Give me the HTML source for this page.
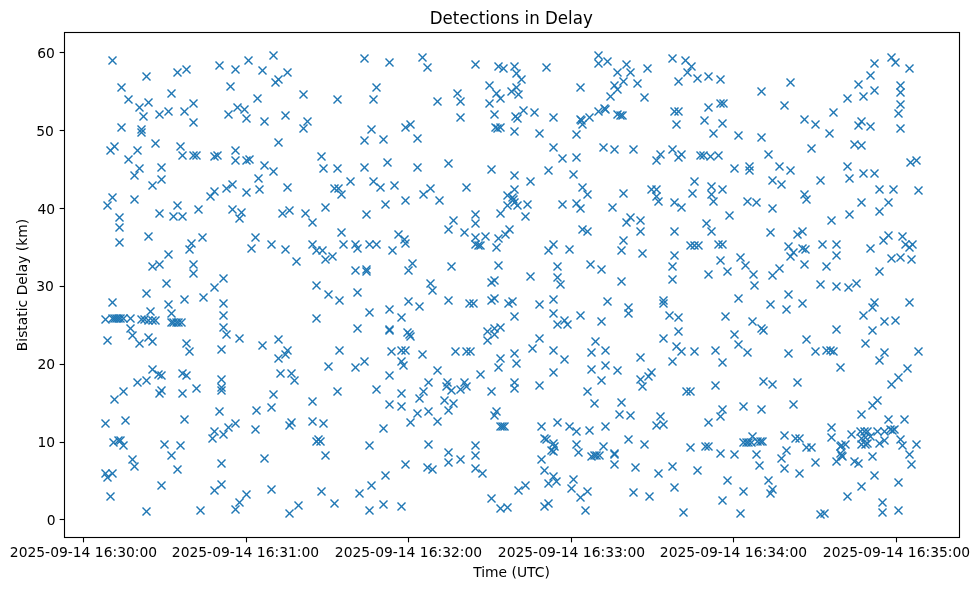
<!DOCTYPE html>
<html lang="en">
<head>
<meta charset="utf-8">
<title>Detections in Delay</title>
<style>
html,body{margin:0;padding:0;background:#fff;}
body{width:979px;height:590px;overflow:hidden;}
svg{display:block;}
text{font-family:"DejaVu Sans","Liberation Sans",sans-serif;fill:#000;}
.t{font-size:13.889px;}
.ti{font-size:16.667px;}
.ax{stroke:#000;stroke-width:1.111;fill:none;}
.m{stroke:#1f77b4;stroke-width:1.389;fill:none;stroke-linecap:butt;}
</style>
</head>
<body>
<svg width="979" height="590" viewBox="0 0 979 590">
<rect x="0" y="0" width="979" height="590" fill="#fff"/>
<g class="m">
<path d="M108.5 56.5l8 8"/><path d="M116.5 56.5l-8 8"/>
<path d="M142.5 72.5l8 8"/><path d="M150.5 72.5l-8 8"/>
<path d="M117.5 83.5l8 8"/><path d="M125.5 83.5l-8 8"/>
<path d="M124.5 95.5l8 8"/><path d="M132.5 95.5l-8 8"/>
<path d="M135.5 103.5l8 8"/><path d="M143.5 103.5l-8 8"/>
<path d="M144.5 98.5l8 8"/><path d="M152.5 98.5l-8 8"/>
<path d="M139.5 112.5l8 8"/><path d="M147.5 112.5l-8 8"/>
<path d="M155.5 110.5l8 8"/><path d="M163.5 110.5l-8 8"/>
<path d="M164.5 107.5l8 8"/><path d="M172.5 107.5l-8 8"/>
<path d="M167.5 89.5l8 8"/><path d="M175.5 89.5l-8 8"/>
<path d="M173.5 68.5l8 8"/><path d="M181.5 68.5l-8 8"/>
<path d="M182.5 65.5l8 8"/><path d="M190.5 65.5l-8 8"/>
<path d="M180.5 107.5l8 8"/><path d="M188.5 107.5l-8 8"/>
<path d="M189.5 99.5l8 8"/><path d="M197.5 99.5l-8 8"/>
<path d="M189.5 118.5l8 8"/><path d="M197.5 118.5l-8 8"/>
<path d="M117.5 123.5l8 8"/><path d="M125.5 123.5l-8 8"/>
<path d="M137.5 125.5l8 8"/><path d="M145.5 125.5l-8 8"/>
<path d="M137.5 128.5l8 8"/><path d="M145.5 128.5l-8 8"/>
<path d="M215.5 61.5l8 8"/><path d="M223.5 61.5l-8 8"/>
<path d="M231.5 65.5l8 8"/><path d="M239.5 65.5l-8 8"/>
<path d="M244.5 56.5l8 8"/><path d="M252.5 56.5l-8 8"/>
<path d="M226.5 82.5l8 8"/><path d="M234.5 82.5l-8 8"/>
<path d="M233.5 103.5l8 8"/><path d="M241.5 103.5l-8 8"/>
<path d="M240.5 105.5l8 8"/><path d="M248.5 105.5l-8 8"/>
<path d="M224.5 110.5l8 8"/><path d="M232.5 110.5l-8 8"/>
<path d="M242.5 114.5l8 8"/><path d="M250.5 114.5l-8 8"/>
<path d="M151.5 139.5l8 8"/><path d="M159.5 139.5l-8 8"/>
<path d="M253.5 94.5l8 8"/><path d="M261.5 94.5l-8 8"/>
<path d="M269.5 51.5l8 8"/><path d="M277.5 51.5l-8 8"/>
<path d="M258.5 66.5l8 8"/><path d="M266.5 66.5l-8 8"/>
<path d="M283.5 68.5l8 8"/><path d="M291.5 68.5l-8 8"/>
<path d="M274.5 75.5l8 8"/><path d="M282.5 75.5l-8 8"/>
<path d="M271.5 78.5l8 8"/><path d="M279.5 78.5l-8 8"/>
<path d="M299.5 90.5l8 8"/><path d="M307.5 90.5l-8 8"/>
<path d="M333.5 95.5l8 8"/><path d="M341.5 95.5l-8 8"/>
<path d="M260.5 117.5l8 8"/><path d="M268.5 117.5l-8 8"/>
<path d="M281.5 111.5l8 8"/><path d="M289.5 111.5l-8 8"/>
<path d="M303.5 117.5l8 8"/><path d="M311.5 117.5l-8 8"/>
<path d="M299.5 124.5l8 8"/><path d="M307.5 124.5l-8 8"/>
<path d="M274.5 138.5l8 8"/><path d="M282.5 138.5l-8 8"/>
<path d="M360.5 54.5l8 8"/><path d="M368.5 54.5l-8 8"/>
<path d="M385.5 58.5l8 8"/><path d="M393.5 58.5l-8 8"/>
<path d="M418.5 53.5l8 8"/><path d="M426.5 53.5l-8 8"/>
<path d="M372.5 83.5l8 8"/><path d="M380.5 83.5l-8 8"/>
<path d="M369.5 95.5l8 8"/><path d="M377.5 95.5l-8 8"/>
<path d="M367.5 125.5l8 8"/><path d="M375.5 125.5l-8 8"/>
<path d="M401.5 123.5l8 8"/><path d="M409.5 123.5l-8 8"/>
<path d="M406.5 120.5l8 8"/><path d="M414.5 120.5l-8 8"/>
<path d="M360.5 136.5l8 8"/><path d="M368.5 136.5l-8 8"/>
<path d="M379.5 135.5l8 8"/><path d="M387.5 135.5l-8 8"/>
<path d="M413.5 134.5l8 8"/><path d="M421.5 134.5l-8 8"/>
<path d="M423.5 63.5l8 8"/><path d="M431.5 63.5l-8 8"/>
<path d="M471.5 60.5l8 8"/><path d="M479.5 60.5l-8 8"/>
<path d="M542.5 63.5l8 8"/><path d="M550.5 63.5l-8 8"/>
<path d="M453.5 89.5l8 8"/><path d="M461.5 89.5l-8 8"/>
<path d="M456.5 97.5l8 8"/><path d="M464.5 97.5l-8 8"/>
<path d="M433.5 97.5l8 8"/><path d="M441.5 97.5l-8 8"/>
<path d="M456.5 113.5l8 8"/><path d="M464.5 113.5l-8 8"/>
<path d="M549.5 113.5l8 8"/><path d="M557.5 113.5l-8 8"/>
<path d="M576.5 83.5l8 8"/><path d="M584.5 83.5l-8 8"/>
<path d="M535.5 129.5l8 8"/><path d="M543.5 129.5l-8 8"/>
<path d="M594.5 51.5l8 8"/><path d="M602.5 51.5l-8 8"/>
<path d="M594.5 59.5l8 8"/><path d="M602.5 59.5l-8 8"/>
<path d="M603.5 57.5l8 8"/><path d="M611.5 57.5l-8 8"/>
<path d="M622.5 60.5l8 8"/><path d="M630.5 60.5l-8 8"/>
<path d="M613.5 68.5l8 8"/><path d="M621.5 68.5l-8 8"/>
<path d="M626.5 68.5l8 8"/><path d="M634.5 68.5l-8 8"/>
<path d="M643.5 64.5l8 8"/><path d="M651.5 64.5l-8 8"/>
<path d="M619.5 77.5l8 8"/><path d="M627.5 77.5l-8 8"/>
<path d="M610.5 81.5l8 8"/><path d="M618.5 81.5l-8 8"/>
<path d="M613.5 85.5l8 8"/><path d="M621.5 85.5l-8 8"/>
<path d="M633.5 79.5l8 8"/><path d="M641.5 79.5l-8 8"/>
<path d="M640.5 93.5l8 8"/><path d="M648.5 93.5l-8 8"/>
<path d="M668.5 54.5l8 8"/><path d="M676.5 54.5l-8 8"/>
<path d="M681.5 56.5l8 8"/><path d="M689.5 56.5l-8 8"/>
<path d="M687.5 62.5l8 8"/><path d="M695.5 62.5l-8 8"/>
<path d="M683.5 68.5l8 8"/><path d="M691.5 68.5l-8 8"/>
<path d="M674.5 77.5l8 8"/><path d="M682.5 77.5l-8 8"/>
<path d="M693.5 74.5l8 8"/><path d="M701.5 74.5l-8 8"/>
<path d="M704.5 72.5l8 8"/><path d="M712.5 72.5l-8 8"/>
<path d="M716.5 75.5l8 8"/><path d="M724.5 75.5l-8 8"/>
<path d="M670.5 107.5l8 8"/><path d="M678.5 107.5l-8 8"/>
<path d="M674.5 107.5l8 8"/><path d="M682.5 107.5l-8 8"/>
<path d="M672.5 120.5l8 8"/><path d="M680.5 120.5l-8 8"/>
<path d="M704.5 103.5l8 8"/><path d="M712.5 103.5l-8 8"/>
<path d="M716.5 99.5l8 8"/><path d="M724.5 99.5l-8 8"/>
<path d="M719.5 99.5l8 8"/><path d="M727.5 99.5l-8 8"/>
<path d="M700.5 116.5l8 8"/><path d="M708.5 116.5l-8 8"/>
<path d="M718.5 119.5l8 8"/><path d="M726.5 119.5l-8 8"/>
<path d="M709.5 129.5l8 8"/><path d="M717.5 129.5l-8 8"/>
<path d="M734.5 131.5l8 8"/><path d="M742.5 131.5l-8 8"/>
<path d="M757.5 87.5l8 8"/><path d="M765.5 87.5l-8 8"/>
<path d="M757.5 133.5l8 8"/><path d="M765.5 133.5l-8 8"/>
<path d="M786.5 78.5l8 8"/><path d="M794.5 78.5l-8 8"/>
<path d="M780.5 101.5l8 8"/><path d="M788.5 101.5l-8 8"/>
<path d="M800.5 115.5l8 8"/><path d="M808.5 115.5l-8 8"/>
<path d="M811.5 120.5l8 8"/><path d="M819.5 120.5l-8 8"/>
<path d="M829.5 108.5l8 8"/><path d="M837.5 108.5l-8 8"/>
<path d="M825.5 129.5l8 8"/><path d="M833.5 129.5l-8 8"/>
<path d="M843.5 94.5l8 8"/><path d="M851.5 94.5l-8 8"/>
<path d="M854.5 80.5l8 8"/><path d="M862.5 80.5l-8 8"/>
<path d="M859.5 92.5l8 8"/><path d="M867.5 92.5l-8 8"/>
<path d="M866.5 71.5l8 8"/><path d="M874.5 71.5l-8 8"/>
<path d="M870.5 86.5l8 8"/><path d="M878.5 86.5l-8 8"/>
<path d="M870.5 59.5l8 8"/><path d="M878.5 59.5l-8 8"/>
<path d="M887.5 53.5l8 8"/><path d="M895.5 53.5l-8 8"/>
<path d="M891.5 58.5l8 8"/><path d="M899.5 58.5l-8 8"/>
<path d="M905.5 64.5l8 8"/><path d="M913.5 64.5l-8 8"/>
<path d="M896.5 81.5l8 8"/><path d="M904.5 81.5l-8 8"/>
<path d="M896.5 88.5l8 8"/><path d="M904.5 88.5l-8 8"/>
<path d="M896.5 100.5l8 8"/><path d="M904.5 100.5l-8 8"/>
<path d="M894.5 109.5l8 8"/><path d="M902.5 109.5l-8 8"/>
<path d="M896.5 124.5l8 8"/><path d="M904.5 124.5l-8 8"/>
<path d="M857.5 117.5l8 8"/><path d="M865.5 117.5l-8 8"/>
<path d="M854.5 121.5l8 8"/><path d="M862.5 121.5l-8 8"/>
<path d="M866.5 122.5l8 8"/><path d="M874.5 122.5l-8 8"/>
<path d="M110.5 142.5l8 8"/><path d="M118.5 142.5l-8 8"/>
<path d="M106.5 146.5l8 8"/><path d="M114.5 146.5l-8 8"/>
<path d="M133.5 146.5l8 8"/><path d="M141.5 146.5l-8 8"/>
<path d="M176.5 142.5l8 8"/><path d="M184.5 142.5l-8 8"/>
<path d="M124.5 155.5l8 8"/><path d="M132.5 155.5l-8 8"/>
<path d="M135.5 164.5l8 8"/><path d="M143.5 164.5l-8 8"/>
<path d="M130.5 171.5l8 8"/><path d="M138.5 171.5l-8 8"/>
<path d="M157.5 163.5l8 8"/><path d="M165.5 163.5l-8 8"/>
<path d="M157.5 175.5l8 8"/><path d="M165.5 175.5l-8 8"/>
<path d="M148.5 181.5l8 8"/><path d="M156.5 181.5l-8 8"/>
<path d="M178.5 151.5l8 8"/><path d="M186.5 151.5l-8 8"/>
<path d="M189.5 151.5l8 8"/><path d="M197.5 151.5l-8 8"/>
<path d="M192.5 151.5l8 8"/><path d="M200.5 151.5l-8 8"/>
<path d="M210.5 152.5l8 8"/><path d="M218.5 152.5l-8 8"/>
<path d="M213.5 151.5l8 8"/><path d="M221.5 151.5l-8 8"/>
<path d="M231.5 146.5l8 8"/><path d="M239.5 146.5l-8 8"/>
<path d="M231.5 156.5l8 8"/><path d="M239.5 156.5l-8 8"/>
<path d="M242.5 156.5l8 8"/><path d="M250.5 156.5l-8 8"/>
<path d="M245.5 155.5l8 8"/><path d="M253.5 155.5l-8 8"/>
<path d="M254.5 174.5l8 8"/><path d="M262.5 174.5l-8 8"/>
<path d="M255.5 185.5l8 8"/><path d="M263.5 185.5l-8 8"/>
<path d="M108.5 193.5l8 8"/><path d="M116.5 193.5l-8 8"/>
<path d="M103.5 201.5l8 8"/><path d="M111.5 201.5l-8 8"/>
<path d="M130.5 195.5l8 8"/><path d="M138.5 195.5l-8 8"/>
<path d="M173.5 201.5l8 8"/><path d="M181.5 201.5l-8 8"/>
<path d="M155.5 209.5l8 8"/><path d="M163.5 209.5l-8 8"/>
<path d="M169.5 212.5l8 8"/><path d="M177.5 212.5l-8 8"/>
<path d="M178.5 212.5l8 8"/><path d="M186.5 212.5l-8 8"/>
<path d="M194.5 205.5l8 8"/><path d="M202.5 205.5l-8 8"/>
<path d="M206.5 192.5l8 8"/><path d="M214.5 192.5l-8 8"/>
<path d="M210.5 187.5l8 8"/><path d="M218.5 187.5l-8 8"/>
<path d="M222.5 184.5l8 8"/><path d="M230.5 184.5l-8 8"/>
<path d="M228.5 180.5l8 8"/><path d="M236.5 180.5l-8 8"/>
<path d="M242.5 188.5l8 8"/><path d="M250.5 188.5l-8 8"/>
<path d="M228.5 205.5l8 8"/><path d="M236.5 205.5l-8 8"/>
<path d="M237.5 208.5l8 8"/><path d="M245.5 208.5l-8 8"/>
<path d="M235.5 214.5l8 8"/><path d="M243.5 214.5l-8 8"/>
<path d="M115.5 213.5l8 8"/><path d="M123.5 213.5l-8 8"/>
<path d="M115.5 223.5l8 8"/><path d="M123.5 223.5l-8 8"/>
<path d="M144.5 232.5l8 8"/><path d="M152.5 232.5l-8 8"/>
<path d="M198.5 233.5l8 8"/><path d="M206.5 233.5l-8 8"/>
<path d="M115.5 238.5l8 8"/><path d="M123.5 238.5l-8 8"/>
<path d="M251.5 233.5l8 8"/><path d="M259.5 233.5l-8 8"/>
<path d="M260.5 161.5l8 8"/><path d="M268.5 161.5l-8 8"/>
<path d="M269.5 167.5l8 8"/><path d="M277.5 167.5l-8 8"/>
<path d="M283.5 183.5l8 8"/><path d="M291.5 183.5l-8 8"/>
<path d="M317.5 152.5l8 8"/><path d="M325.5 152.5l-8 8"/>
<path d="M319.5 164.5l8 8"/><path d="M327.5 164.5l-8 8"/>
<path d="M333.5 164.5l8 8"/><path d="M341.5 164.5l-8 8"/>
<path d="M360.5 163.5l8 8"/><path d="M368.5 163.5l-8 8"/>
<path d="M383.5 158.5l8 8"/><path d="M391.5 158.5l-8 8"/>
<path d="M413.5 163.5l8 8"/><path d="M421.5 163.5l-8 8"/>
<path d="M346.5 177.5l8 8"/><path d="M354.5 177.5l-8 8"/>
<path d="M330.5 184.5l8 8"/><path d="M338.5 184.5l-8 8"/>
<path d="M334.5 184.5l8 8"/><path d="M342.5 184.5l-8 8"/>
<path d="M337.5 190.5l8 8"/><path d="M345.5 190.5l-8 8"/>
<path d="M369.5 177.5l8 8"/><path d="M377.5 177.5l-8 8"/>
<path d="M376.5 183.5l8 8"/><path d="M384.5 183.5l-8 8"/>
<path d="M390.5 181.5l8 8"/><path d="M398.5 181.5l-8 8"/>
<path d="M401.5 196.5l8 8"/><path d="M409.5 196.5l-8 8"/>
<path d="M419.5 190.5l8 8"/><path d="M427.5 190.5l-8 8"/>
<path d="M381.5 200.5l8 8"/><path d="M389.5 200.5l-8 8"/>
<path d="M321.5 203.5l8 8"/><path d="M329.5 203.5l-8 8"/>
<path d="M362.5 210.5l8 8"/><path d="M370.5 210.5l-8 8"/>
<path d="M285.5 206.5l8 8"/><path d="M293.5 206.5l-8 8"/>
<path d="M278.5 209.5l8 8"/><path d="M286.5 209.5l-8 8"/>
<path d="M301.5 209.5l8 8"/><path d="M309.5 209.5l-8 8"/>
<path d="M308.5 218.5l8 8"/><path d="M316.5 218.5l-8 8"/>
<path d="M337.5 228.5l8 8"/><path d="M345.5 228.5l-8 8"/>
<path d="M394.5 230.5l8 8"/><path d="M402.5 230.5l-8 8"/>
<path d="M400.5 235.5l8 8"/><path d="M408.5 235.5l-8 8"/>
<path d="M549.5 143.5l8 8"/><path d="M557.5 143.5l-8 8"/>
<path d="M558.5 154.5l8 8"/><path d="M566.5 154.5l-8 8"/>
<path d="M572.5 153.5l8 8"/><path d="M580.5 153.5l-8 8"/>
<path d="M544.5 166.5l8 8"/><path d="M552.5 166.5l-8 8"/>
<path d="M569.5 170.5l8 8"/><path d="M577.5 170.5l-8 8"/>
<path d="M444.5 159.5l8 8"/><path d="M452.5 159.5l-8 8"/>
<path d="M462.5 183.5l8 8"/><path d="M470.5 183.5l-8 8"/>
<path d="M426.5 184.5l8 8"/><path d="M434.5 184.5l-8 8"/>
<path d="M435.5 196.5l8 8"/><path d="M443.5 196.5l-8 8"/>
<path d="M578.5 183.5l8 8"/><path d="M586.5 183.5l-8 8"/>
<path d="M583.5 190.5l8 8"/><path d="M591.5 190.5l-8 8"/>
<path d="M558.5 200.5l8 8"/><path d="M566.5 200.5l-8 8"/>
<path d="M572.5 199.5l8 8"/><path d="M580.5 199.5l-8 8"/>
<path d="M576.5 204.5l8 8"/><path d="M584.5 204.5l-8 8"/>
<path d="M471.5 210.5l8 8"/><path d="M479.5 210.5l-8 8"/>
<path d="M471.5 219.5l8 8"/><path d="M479.5 219.5l-8 8"/>
<path d="M449.5 216.5l8 8"/><path d="M457.5 216.5l-8 8"/>
<path d="M444.5 225.5l8 8"/><path d="M452.5 225.5l-8 8"/>
<path d="M460.5 228.5l8 8"/><path d="M468.5 228.5l-8 8"/>
<path d="M471.5 233.5l8 8"/><path d="M479.5 233.5l-8 8"/>
<path d="M481.5 232.5l8 8"/><path d="M489.5 232.5l-8 8"/>
<path d="M494.5 234.5l8 8"/><path d="M502.5 234.5l-8 8"/>
<path d="M501.5 230.5l8 8"/><path d="M509.5 230.5l-8 8"/>
<path d="M505.5 225.5l8 8"/><path d="M513.5 225.5l-8 8"/>
<path d="M578.5 225.5l8 8"/><path d="M586.5 225.5l-8 8"/>
<path d="M583.5 227.5l8 8"/><path d="M591.5 227.5l-8 8"/>
<path d="M599.5 143.5l8 8"/><path d="M607.5 143.5l-8 8"/>
<path d="M610.5 145.5l8 8"/><path d="M618.5 145.5l-8 8"/>
<path d="M629.5 145.5l8 8"/><path d="M637.5 145.5l-8 8"/>
<path d="M656.5 150.5l8 8"/><path d="M664.5 150.5l-8 8"/>
<path d="M652.5 156.5l8 8"/><path d="M660.5 156.5l-8 8"/>
<path d="M668.5 145.5l8 8"/><path d="M676.5 145.5l-8 8"/>
<path d="M677.5 150.5l8 8"/><path d="M685.5 150.5l-8 8"/>
<path d="M674.5 153.5l8 8"/><path d="M682.5 153.5l-8 8"/>
<path d="M696.5 151.5l8 8"/><path d="M704.5 151.5l-8 8"/>
<path d="M699.5 151.5l8 8"/><path d="M707.5 151.5l-8 8"/>
<path d="M706.5 152.5l8 8"/><path d="M714.5 152.5l-8 8"/>
<path d="M714.5 151.5l8 8"/><path d="M722.5 151.5l-8 8"/>
<path d="M730.5 164.5l8 8"/><path d="M738.5 164.5l-8 8"/>
<path d="M745.5 162.5l8 8"/><path d="M753.5 162.5l-8 8"/>
<path d="M745.5 166.5l8 8"/><path d="M753.5 166.5l-8 8"/>
<path d="M690.5 177.5l8 8"/><path d="M698.5 177.5l-8 8"/>
<path d="M688.5 189.5l8 8"/><path d="M696.5 189.5l-8 8"/>
<path d="M707.5 182.5l8 8"/><path d="M715.5 182.5l-8 8"/>
<path d="M707.5 190.5l8 8"/><path d="M715.5 190.5l-8 8"/>
<path d="M709.5 197.5l8 8"/><path d="M717.5 197.5l-8 8"/>
<path d="M718.5 185.5l8 8"/><path d="M726.5 185.5l-8 8"/>
<path d="M743.5 197.5l8 8"/><path d="M751.5 197.5l-8 8"/>
<path d="M647.5 185.5l8 8"/><path d="M655.5 185.5l-8 8"/>
<path d="M652.5 185.5l8 8"/><path d="M660.5 185.5l-8 8"/>
<path d="M652.5 192.5l8 8"/><path d="M660.5 192.5l-8 8"/>
<path d="M654.5 197.5l8 8"/><path d="M662.5 197.5l-8 8"/>
<path d="M619.5 189.5l8 8"/><path d="M627.5 189.5l-8 8"/>
<path d="M608.5 203.5l8 8"/><path d="M616.5 203.5l-8 8"/>
<path d="M670.5 198.5l8 8"/><path d="M678.5 198.5l-8 8"/>
<path d="M677.5 203.5l8 8"/><path d="M685.5 203.5l-8 8"/>
<path d="M626.5 213.5l8 8"/><path d="M634.5 213.5l-8 8"/>
<path d="M622.5 218.5l8 8"/><path d="M630.5 218.5l-8 8"/>
<path d="M636.5 216.5l8 8"/><path d="M644.5 216.5l-8 8"/>
<path d="M636.5 227.5l8 8"/><path d="M644.5 227.5l-8 8"/>
<path d="M670.5 227.5l8 8"/><path d="M678.5 227.5l-8 8"/>
<path d="M702.5 219.5l8 8"/><path d="M710.5 219.5l-8 8"/>
<path d="M707.5 227.5l8 8"/><path d="M715.5 227.5l-8 8"/>
<path d="M725.5 211.5l8 8"/><path d="M733.5 211.5l-8 8"/>
<path d="M619.5 236.5l8 8"/><path d="M627.5 236.5l-8 8"/>
<path d="M764.5 150.5l8 8"/><path d="M772.5 150.5l-8 8"/>
<path d="M807.5 144.5l8 8"/><path d="M815.5 144.5l-8 8"/>
<path d="M850.5 140.5l8 8"/><path d="M858.5 140.5l-8 8"/>
<path d="M857.5 141.5l8 8"/><path d="M865.5 141.5l-8 8"/>
<path d="M775.5 162.5l8 8"/><path d="M783.5 162.5l-8 8"/>
<path d="M786.5 166.5l8 8"/><path d="M794.5 166.5l-8 8"/>
<path d="M768.5 176.5l8 8"/><path d="M776.5 176.5l-8 8"/>
<path d="M777.5 180.5l8 8"/><path d="M785.5 180.5l-8 8"/>
<path d="M816.5 176.5l8 8"/><path d="M824.5 176.5l-8 8"/>
<path d="M843.5 162.5l8 8"/><path d="M851.5 162.5l-8 8"/>
<path d="M845.5 174.5l8 8"/><path d="M853.5 174.5l-8 8"/>
<path d="M859.5 169.5l8 8"/><path d="M867.5 169.5l-8 8"/>
<path d="M870.5 169.5l8 8"/><path d="M878.5 169.5l-8 8"/>
<path d="M906.5 158.5l8 8"/><path d="M914.5 158.5l-8 8"/>
<path d="M912.5 156.5l8 8"/><path d="M920.5 156.5l-8 8"/>
<path d="M875.5 185.5l8 8"/><path d="M883.5 185.5l-8 8"/>
<path d="M889.5 185.5l8 8"/><path d="M897.5 185.5l-8 8"/>
<path d="M914.5 186.5l8 8"/><path d="M922.5 186.5l-8 8"/>
<path d="M800.5 190.5l8 8"/><path d="M808.5 190.5l-8 8"/>
<path d="M802.5 195.5l8 8"/><path d="M810.5 195.5l-8 8"/>
<path d="M752.5 198.5l8 8"/><path d="M760.5 198.5l-8 8"/>
<path d="M768.5 204.5l8 8"/><path d="M776.5 204.5l-8 8"/>
<path d="M857.5 198.5l8 8"/><path d="M865.5 198.5l-8 8"/>
<path d="M884.5 198.5l8 8"/><path d="M892.5 198.5l-8 8"/>
<path d="M875.5 207.5l8 8"/><path d="M883.5 207.5l-8 8"/>
<path d="M845.5 210.5l8 8"/><path d="M853.5 210.5l-8 8"/>
<path d="M827.5 216.5l8 8"/><path d="M835.5 216.5l-8 8"/>
<path d="M766.5 228.5l8 8"/><path d="M774.5 228.5l-8 8"/>
<path d="M793.5 230.5l8 8"/><path d="M801.5 230.5l-8 8"/>
<path d="M798.5 227.5l8 8"/><path d="M806.5 227.5l-8 8"/>
<path d="M884.5 231.5l8 8"/><path d="M892.5 231.5l-8 8"/>
<path d="M879.5 236.5l8 8"/><path d="M887.5 236.5l-8 8"/>
<path d="M898.5 232.5l8 8"/><path d="M906.5 232.5l-8 8"/>
<path d="M187.5 239.5l8 8"/><path d="M195.5 239.5l-8 8"/>
<path d="M185.5 245.5l8 8"/><path d="M193.5 245.5l-8 8"/>
<path d="M247.5 244.5l8 8"/><path d="M255.5 244.5l-8 8"/>
<path d="M164.5 250.5l8 8"/><path d="M172.5 250.5l-8 8"/>
<path d="M148.5 262.5l8 8"/><path d="M156.5 262.5l-8 8"/>
<path d="M155.5 260.5l8 8"/><path d="M163.5 260.5l-8 8"/>
<path d="M189.5 260.5l8 8"/><path d="M197.5 260.5l-8 8"/>
<path d="M189.5 269.5l8 8"/><path d="M197.5 269.5l-8 8"/>
<path d="M162.5 279.5l8 8"/><path d="M170.5 279.5l-8 8"/>
<path d="M142.5 289.5l8 8"/><path d="M150.5 289.5l-8 8"/>
<path d="M219.5 274.5l8 8"/><path d="M227.5 274.5l-8 8"/>
<path d="M210.5 283.5l8 8"/><path d="M218.5 283.5l-8 8"/>
<path d="M199.5 293.5l8 8"/><path d="M207.5 293.5l-8 8"/>
<path d="M180.5 295.5l8 8"/><path d="M188.5 295.5l-8 8"/>
<path d="M108.5 298.5l8 8"/><path d="M116.5 298.5l-8 8"/>
<path d="M219.5 299.5l8 8"/><path d="M227.5 299.5l-8 8"/>
<path d="M219.5 311.5l8 8"/><path d="M227.5 311.5l-8 8"/>
<path d="M219.5 323.5l8 8"/><path d="M227.5 323.5l-8 8"/>
<path d="M222.5 330.5l8 8"/><path d="M230.5 330.5l-8 8"/>
<path d="M235.5 334.5l8 8"/><path d="M243.5 334.5l-8 8"/>
<path d="M267.5 240.5l8 8"/><path d="M275.5 240.5l-8 8"/>
<path d="M308.5 240.5l8 8"/><path d="M316.5 240.5l-8 8"/>
<path d="M339.5 240.5l8 8"/><path d="M347.5 240.5l-8 8"/>
<path d="M351.5 240.5l8 8"/><path d="M359.5 240.5l-8 8"/>
<path d="M353.5 244.5l8 8"/><path d="M361.5 244.5l-8 8"/>
<path d="M365.5 240.5l8 8"/><path d="M373.5 240.5l-8 8"/>
<path d="M372.5 240.5l8 8"/><path d="M380.5 240.5l-8 8"/>
<path d="M401.5 239.5l8 8"/><path d="M409.5 239.5l-8 8"/>
<path d="M281.5 245.5l8 8"/><path d="M289.5 245.5l-8 8"/>
<path d="M312.5 246.5l8 8"/><path d="M320.5 246.5l-8 8"/>
<path d="M318.5 246.5l8 8"/><path d="M326.5 246.5l-8 8"/>
<path d="M292.5 257.5l8 8"/><path d="M300.5 257.5l-8 8"/>
<path d="M321.5 255.5l8 8"/><path d="M329.5 255.5l-8 8"/>
<path d="M328.5 252.5l8 8"/><path d="M336.5 252.5l-8 8"/>
<path d="M388.5 246.5l8 8"/><path d="M396.5 246.5l-8 8"/>
<path d="M408.5 259.5l8 8"/><path d="M416.5 259.5l-8 8"/>
<path d="M404.5 266.5l8 8"/><path d="M412.5 266.5l-8 8"/>
<path d="M351.5 266.5l8 8"/><path d="M359.5 266.5l-8 8"/>
<path d="M362.5 265.5l8 8"/><path d="M370.5 265.5l-8 8"/>
<path d="M362.5 267.5l8 8"/><path d="M370.5 267.5l-8 8"/>
<path d="M312.5 281.5l8 8"/><path d="M320.5 281.5l-8 8"/>
<path d="M324.5 290.5l8 8"/><path d="M332.5 290.5l-8 8"/>
<path d="M335.5 296.5l8 8"/><path d="M343.5 296.5l-8 8"/>
<path d="M353.5 288.5l8 8"/><path d="M361.5 288.5l-8 8"/>
<path d="M404.5 297.5l8 8"/><path d="M412.5 297.5l-8 8"/>
<path d="M415.5 302.5l8 8"/><path d="M423.5 302.5l-8 8"/>
<path d="M385.5 305.5l8 8"/><path d="M393.5 305.5l-8 8"/>
<path d="M365.5 308.5l8 8"/><path d="M373.5 308.5l-8 8"/>
<path d="M397.5 313.5l8 8"/><path d="M405.5 313.5l-8 8"/>
<path d="M312.5 314.5l8 8"/><path d="M320.5 314.5l-8 8"/>
<path d="M353.5 324.5l8 8"/><path d="M361.5 324.5l-8 8"/>
<path d="M385.5 326.5l8 8"/><path d="M393.5 326.5l-8 8"/>
<path d="M385.5 325.5l8 8"/><path d="M393.5 325.5l-8 8"/>
<path d="M403.5 328.5l8 8"/><path d="M411.5 328.5l-8 8"/>
<path d="M405.5 330.5l8 8"/><path d="M413.5 330.5l-8 8"/>
<path d="M406.5 332.5l8 8"/><path d="M414.5 332.5l-8 8"/>
<path d="M274.5 335.5l8 8"/><path d="M282.5 335.5l-8 8"/>
<path d="M471.5 240.5l8 8"/><path d="M479.5 240.5l-8 8"/>
<path d="M474.5 241.5l8 8"/><path d="M482.5 241.5l-8 8"/>
<path d="M476.5 241.5l8 8"/><path d="M484.5 241.5l-8 8"/>
<path d="M492.5 243.5l8 8"/><path d="M500.5 243.5l-8 8"/>
<path d="M549.5 240.5l8 8"/><path d="M557.5 240.5l-8 8"/>
<path d="M544.5 246.5l8 8"/><path d="M552.5 246.5l-8 8"/>
<path d="M565.5 245.5l8 8"/><path d="M573.5 245.5l-8 8"/>
<path d="M447.5 262.5l8 8"/><path d="M455.5 262.5l-8 8"/>
<path d="M494.5 261.5l8 8"/><path d="M502.5 261.5l-8 8"/>
<path d="M553.5 262.5l8 8"/><path d="M561.5 262.5l-8 8"/>
<path d="M586.5 260.5l8 8"/><path d="M594.5 260.5l-8 8"/>
<path d="M526.5 272.5l8 8"/><path d="M534.5 272.5l-8 8"/>
<path d="M553.5 273.5l8 8"/><path d="M561.5 273.5l-8 8"/>
<path d="M556.5 280.5l8 8"/><path d="M564.5 280.5l-8 8"/>
<path d="M487.5 278.5l8 8"/><path d="M495.5 278.5l-8 8"/>
<path d="M490.5 276.5l8 8"/><path d="M498.5 276.5l-8 8"/>
<path d="M426.5 279.5l8 8"/><path d="M434.5 279.5l-8 8"/>
<path d="M428.5 286.5l8 8"/><path d="M436.5 286.5l-8 8"/>
<path d="M444.5 296.5l8 8"/><path d="M452.5 296.5l-8 8"/>
<path d="M465.5 299.5l8 8"/><path d="M473.5 299.5l-8 8"/>
<path d="M469.5 299.5l8 8"/><path d="M477.5 299.5l-8 8"/>
<path d="M487.5 296.5l8 8"/><path d="M495.5 296.5l-8 8"/>
<path d="M490.5 294.5l8 8"/><path d="M498.5 294.5l-8 8"/>
<path d="M504.5 299.5l8 8"/><path d="M512.5 299.5l-8 8"/>
<path d="M508.5 297.5l8 8"/><path d="M516.5 297.5l-8 8"/>
<path d="M535.5 300.5l8 8"/><path d="M543.5 300.5l-8 8"/>
<path d="M549.5 295.5l8 8"/><path d="M557.5 295.5l-8 8"/>
<path d="M549.5 309.5l8 8"/><path d="M557.5 309.5l-8 8"/>
<path d="M510.5 312.5l8 8"/><path d="M518.5 312.5l-8 8"/>
<path d="M576.5 311.5l8 8"/><path d="M584.5 311.5l-8 8"/>
<path d="M553.5 320.5l8 8"/><path d="M561.5 320.5l-8 8"/>
<path d="M560.5 316.5l8 8"/><path d="M568.5 316.5l-8 8"/>
<path d="M563.5 320.5l8 8"/><path d="M571.5 320.5l-8 8"/>
<path d="M496.5 323.5l8 8"/><path d="M504.5 323.5l-8 8"/>
<path d="M490.5 324.5l8 8"/><path d="M498.5 324.5l-8 8"/>
<path d="M483.5 327.5l8 8"/><path d="M491.5 327.5l-8 8"/>
<path d="M490.5 330.5l8 8"/><path d="M498.5 330.5l-8 8"/>
<path d="M483.5 336.5l8 8"/><path d="M491.5 336.5l-8 8"/>
<path d="M535.5 334.5l8 8"/><path d="M543.5 334.5l-8 8"/>
<path d="M617.5 246.5l8 8"/><path d="M625.5 246.5l-8 8"/>
<path d="M686.5 241.5l8 8"/><path d="M694.5 241.5l-8 8"/>
<path d="M690.5 241.5l8 8"/><path d="M698.5 241.5l-8 8"/>
<path d="M694.5 241.5l8 8"/><path d="M702.5 241.5l-8 8"/>
<path d="M714.5 240.5l8 8"/><path d="M722.5 240.5l-8 8"/>
<path d="M718.5 240.5l8 8"/><path d="M726.5 240.5l-8 8"/>
<path d="M638.5 249.5l8 8"/><path d="M646.5 249.5l-8 8"/>
<path d="M670.5 251.5l8 8"/><path d="M678.5 251.5l-8 8"/>
<path d="M668.5 262.5l8 8"/><path d="M676.5 262.5l-8 8"/>
<path d="M668.5 275.5l8 8"/><path d="M676.5 275.5l-8 8"/>
<path d="M597.5 265.5l8 8"/><path d="M605.5 265.5l-8 8"/>
<path d="M617.5 277.5l8 8"/><path d="M625.5 277.5l-8 8"/>
<path d="M716.5 256.5l8 8"/><path d="M724.5 256.5l-8 8"/>
<path d="M736.5 253.5l8 8"/><path d="M744.5 253.5l-8 8"/>
<path d="M741.5 261.5l8 8"/><path d="M749.5 261.5l-8 8"/>
<path d="M704.5 270.5l8 8"/><path d="M712.5 270.5l-8 8"/>
<path d="M723.5 267.5l8 8"/><path d="M731.5 267.5l-8 8"/>
<path d="M749.5 270.5l8 8"/><path d="M757.5 270.5l-8 8"/>
<path d="M750.5 281.5l8 8"/><path d="M758.5 281.5l-8 8"/>
<path d="M603.5 297.5l8 8"/><path d="M611.5 297.5l-8 8"/>
<path d="M659.5 296.5l8 8"/><path d="M667.5 296.5l-8 8"/>
<path d="M659.5 299.5l8 8"/><path d="M667.5 299.5l-8 8"/>
<path d="M624.5 303.5l8 8"/><path d="M632.5 303.5l-8 8"/>
<path d="M624.5 309.5l8 8"/><path d="M632.5 309.5l-8 8"/>
<path d="M597.5 317.5l8 8"/><path d="M605.5 317.5l-8 8"/>
<path d="M665.5 311.5l8 8"/><path d="M673.5 311.5l-8 8"/>
<path d="M674.5 313.5l8 8"/><path d="M682.5 313.5l-8 8"/>
<path d="M674.5 327.5l8 8"/><path d="M682.5 327.5l-8 8"/>
<path d="M734.5 294.5l8 8"/><path d="M742.5 294.5l-8 8"/>
<path d="M721.5 312.5l8 8"/><path d="M729.5 312.5l-8 8"/>
<path d="M748.5 317.5l8 8"/><path d="M756.5 317.5l-8 8"/>
<path d="M730.5 330.5l8 8"/><path d="M738.5 330.5l-8 8"/>
<path d="M659.5 334.5l8 8"/><path d="M667.5 334.5l-8 8"/>
<path d="M591.5 337.5l8 8"/><path d="M599.5 337.5l-8 8"/>
<path d="M784.5 242.5l8 8"/><path d="M792.5 242.5l-8 8"/>
<path d="M789.5 248.5l8 8"/><path d="M797.5 248.5l-8 8"/>
<path d="M786.5 252.5l8 8"/><path d="M794.5 252.5l-8 8"/>
<path d="M798.5 244.5l8 8"/><path d="M806.5 244.5l-8 8"/>
<path d="M801.5 245.5l8 8"/><path d="M809.5 245.5l-8 8"/>
<path d="M818.5 240.5l8 8"/><path d="M826.5 240.5l-8 8"/>
<path d="M832.5 240.5l8 8"/><path d="M840.5 240.5l-8 8"/>
<path d="M832.5 251.5l8 8"/><path d="M840.5 251.5l-8 8"/>
<path d="M866.5 244.5l8 8"/><path d="M874.5 244.5l-8 8"/>
<path d="M901.5 240.5l8 8"/><path d="M909.5 240.5l-8 8"/>
<path d="M905.5 243.5l8 8"/><path d="M913.5 243.5l-8 8"/>
<path d="M908.5 240.5l8 8"/><path d="M916.5 240.5l-8 8"/>
<path d="M907.5 255.5l8 8"/><path d="M915.5 255.5l-8 8"/>
<path d="M896.5 253.5l8 8"/><path d="M904.5 253.5l-8 8"/>
<path d="M887.5 254.5l8 8"/><path d="M895.5 254.5l-8 8"/>
<path d="M800.5 260.5l8 8"/><path d="M808.5 260.5l-8 8"/>
<path d="M822.5 262.5l8 8"/><path d="M830.5 262.5l-8 8"/>
<path d="M875.5 267.5l8 8"/><path d="M883.5 267.5l-8 8"/>
<path d="M775.5 264.5l8 8"/><path d="M783.5 264.5l-8 8"/>
<path d="M768.5 271.5l8 8"/><path d="M776.5 271.5l-8 8"/>
<path d="M816.5 280.5l8 8"/><path d="M824.5 280.5l-8 8"/>
<path d="M832.5 282.5l8 8"/><path d="M840.5 282.5l-8 8"/>
<path d="M844.5 283.5l8 8"/><path d="M852.5 283.5l-8 8"/>
<path d="M852.5 279.5l8 8"/><path d="M860.5 279.5l-8 8"/>
<path d="M784.5 290.5l8 8"/><path d="M792.5 290.5l-8 8"/>
<path d="M766.5 300.5l8 8"/><path d="M774.5 300.5l-8 8"/>
<path d="M782.5 305.5l8 8"/><path d="M790.5 305.5l-8 8"/>
<path d="M798.5 299.5l8 8"/><path d="M806.5 299.5l-8 8"/>
<path d="M905.5 298.5l8 8"/><path d="M913.5 298.5l-8 8"/>
<path d="M870.5 298.5l8 8"/><path d="M878.5 298.5l-8 8"/>
<path d="M868.5 303.5l8 8"/><path d="M876.5 303.5l-8 8"/>
<path d="M859.5 311.5l8 8"/><path d="M867.5 311.5l-8 8"/>
<path d="M880.5 317.5l8 8"/><path d="M888.5 317.5l-8 8"/>
<path d="M891.5 316.5l8 8"/><path d="M899.5 316.5l-8 8"/>
<path d="M868.5 326.5l8 8"/><path d="M876.5 326.5l-8 8"/>
<path d="M832.5 325.5l8 8"/><path d="M840.5 325.5l-8 8"/>
<path d="M757.5 324.5l8 8"/><path d="M765.5 324.5l-8 8"/>
<path d="M759.5 326.5l8 8"/><path d="M767.5 326.5l-8 8"/>
<path d="M802.5 335.5l8 8"/><path d="M810.5 335.5l-8 8"/>
<path d="M217.5 345.5l8 8"/><path d="M225.5 345.5l-8 8"/>
<path d="M148.5 365.5l8 8"/><path d="M156.5 365.5l-8 8"/>
<path d="M154.5 370.5l8 8"/><path d="M162.5 370.5l-8 8"/>
<path d="M157.5 371.5l8 8"/><path d="M165.5 371.5l-8 8"/>
<path d="M142.5 376.5l8 8"/><path d="M150.5 376.5l-8 8"/>
<path d="M133.5 378.5l8 8"/><path d="M141.5 378.5l-8 8"/>
<path d="M119.5 387.5l8 8"/><path d="M127.5 387.5l-8 8"/>
<path d="M110.5 395.5l8 8"/><path d="M118.5 395.5l-8 8"/>
<path d="M178.5 369.5l8 8"/><path d="M186.5 369.5l-8 8"/>
<path d="M182.5 371.5l8 8"/><path d="M190.5 371.5l-8 8"/>
<path d="M155.5 389.5l8 8"/><path d="M163.5 389.5l-8 8"/>
<path d="M157.5 386.5l8 8"/><path d="M165.5 386.5l-8 8"/>
<path d="M178.5 389.5l8 8"/><path d="M186.5 389.5l-8 8"/>
<path d="M192.5 384.5l8 8"/><path d="M200.5 384.5l-8 8"/>
<path d="M217.5 375.5l8 8"/><path d="M225.5 375.5l-8 8"/>
<path d="M217.5 383.5l8 8"/><path d="M225.5 383.5l-8 8"/>
<path d="M217.5 386.5l8 8"/><path d="M225.5 386.5l-8 8"/>
<path d="M215.5 407.5l8 8"/><path d="M223.5 407.5l-8 8"/>
<path d="M252.5 406.5l8 8"/><path d="M260.5 406.5l-8 8"/>
<path d="M180.5 415.5l8 8"/><path d="M188.5 415.5l-8 8"/>
<path d="M121.5 416.5l8 8"/><path d="M129.5 416.5l-8 8"/>
<path d="M101.5 419.5l8 8"/><path d="M109.5 419.5l-8 8"/>
<path d="M231.5 419.5l8 8"/><path d="M239.5 419.5l-8 8"/>
<path d="M224.5 423.5l8 8"/><path d="M232.5 423.5l-8 8"/>
<path d="M210.5 427.5l8 8"/><path d="M218.5 427.5l-8 8"/>
<path d="M219.5 430.5l8 8"/><path d="M227.5 430.5l-8 8"/>
<path d="M251.5 425.5l8 8"/><path d="M259.5 425.5l-8 8"/>
<path d="M114.5 436.5l8 8"/><path d="M122.5 436.5l-8 8"/>
<path d="M116.5 436.5l8 8"/><path d="M124.5 436.5l-8 8"/>
<path d="M208.5 434.5l8 8"/><path d="M216.5 434.5l-8 8"/>
<path d="M258.5 341.5l8 8"/><path d="M266.5 341.5l-8 8"/>
<path d="M283.5 346.5l8 8"/><path d="M291.5 346.5l-8 8"/>
<path d="M281.5 350.5l8 8"/><path d="M289.5 350.5l-8 8"/>
<path d="M274.5 354.5l8 8"/><path d="M282.5 354.5l-8 8"/>
<path d="M335.5 346.5l8 8"/><path d="M343.5 346.5l-8 8"/>
<path d="M324.5 362.5l8 8"/><path d="M332.5 362.5l-8 8"/>
<path d="M360.5 357.5l8 8"/><path d="M368.5 357.5l-8 8"/>
<path d="M351.5 363.5l8 8"/><path d="M359.5 363.5l-8 8"/>
<path d="M276.5 369.5l8 8"/><path d="M284.5 369.5l-8 8"/>
<path d="M287.5 369.5l8 8"/><path d="M295.5 369.5l-8 8"/>
<path d="M290.5 376.5l8 8"/><path d="M298.5 376.5l-8 8"/>
<path d="M269.5 390.5l8 8"/><path d="M277.5 390.5l-8 8"/>
<path d="M267.5 403.5l8 8"/><path d="M275.5 403.5l-8 8"/>
<path d="M333.5 387.5l8 8"/><path d="M341.5 387.5l-8 8"/>
<path d="M308.5 397.5l8 8"/><path d="M316.5 397.5l-8 8"/>
<path d="M372.5 385.5l8 8"/><path d="M380.5 385.5l-8 8"/>
<path d="M385.5 371.5l8 8"/><path d="M393.5 371.5l-8 8"/>
<path d="M387.5 347.5l8 8"/><path d="M395.5 347.5l-8 8"/>
<path d="M397.5 346.5l8 8"/><path d="M405.5 346.5l-8 8"/>
<path d="M401.5 346.5l8 8"/><path d="M409.5 346.5l-8 8"/>
<path d="M418.5 350.5l8 8"/><path d="M426.5 350.5l-8 8"/>
<path d="M397.5 357.5l8 8"/><path d="M405.5 357.5l-8 8"/>
<path d="M399.5 361.5l8 8"/><path d="M407.5 361.5l-8 8"/>
<path d="M397.5 389.5l8 8"/><path d="M405.5 389.5l-8 8"/>
<path d="M385.5 400.5l8 8"/><path d="M393.5 400.5l-8 8"/>
<path d="M397.5 402.5l8 8"/><path d="M405.5 402.5l-8 8"/>
<path d="M415.5 394.5l8 8"/><path d="M423.5 394.5l-8 8"/>
<path d="M419.5 387.5l8 8"/><path d="M427.5 387.5l-8 8"/>
<path d="M413.5 409.5l8 8"/><path d="M421.5 409.5l-8 8"/>
<path d="M406.5 418.5l8 8"/><path d="M414.5 418.5l-8 8"/>
<path d="M379.5 424.5l8 8"/><path d="M387.5 424.5l-8 8"/>
<path d="M308.5 417.5l8 8"/><path d="M316.5 417.5l-8 8"/>
<path d="M319.5 419.5l8 8"/><path d="M327.5 419.5l-8 8"/>
<path d="M287.5 418.5l8 8"/><path d="M295.5 418.5l-8 8"/>
<path d="M285.5 421.5l8 8"/><path d="M293.5 421.5l-8 8"/>
<path d="M312.5 437.5l8 8"/><path d="M320.5 437.5l-8 8"/>
<path d="M314.5 435.5l8 8"/><path d="M322.5 435.5l-8 8"/>
<path d="M316.5 437.5l8 8"/><path d="M324.5 437.5l-8 8"/>
<path d="M451.5 347.5l8 8"/><path d="M459.5 347.5l-8 8"/>
<path d="M462.5 347.5l8 8"/><path d="M470.5 347.5l-8 8"/>
<path d="M466.5 347.5l8 8"/><path d="M474.5 347.5l-8 8"/>
<path d="M510.5 349.5l8 8"/><path d="M518.5 349.5l-8 8"/>
<path d="M528.5 344.5l8 8"/><path d="M536.5 344.5l-8 8"/>
<path d="M549.5 346.5l8 8"/><path d="M557.5 346.5l-8 8"/>
<path d="M560.5 355.5l8 8"/><path d="M568.5 355.5l-8 8"/>
<path d="M587.5 348.5l8 8"/><path d="M595.5 348.5l-8 8"/>
<path d="M587.5 365.5l8 8"/><path d="M595.5 365.5l-8 8"/>
<path d="M496.5 354.5l8 8"/><path d="M504.5 354.5l-8 8"/>
<path d="M494.5 363.5l8 8"/><path d="M502.5 363.5l-8 8"/>
<path d="M512.5 359.5l8 8"/><path d="M520.5 359.5l-8 8"/>
<path d="M549.5 368.5l8 8"/><path d="M557.5 368.5l-8 8"/>
<path d="M433.5 366.5l8 8"/><path d="M441.5 366.5l-8 8"/>
<path d="M476.5 370.5l8 8"/><path d="M484.5 370.5l-8 8"/>
<path d="M424.5 378.5l8 8"/><path d="M432.5 378.5l-8 8"/>
<path d="M443.5 378.5l8 8"/><path d="M451.5 378.5l-8 8"/>
<path d="M442.5 382.5l8 8"/><path d="M450.5 382.5l-8 8"/>
<path d="M447.5 386.5l8 8"/><path d="M455.5 386.5l-8 8"/>
<path d="M460.5 378.5l8 8"/><path d="M468.5 378.5l-8 8"/>
<path d="M462.5 382.5l8 8"/><path d="M470.5 382.5l-8 8"/>
<path d="M456.5 385.5l8 8"/><path d="M464.5 385.5l-8 8"/>
<path d="M487.5 387.5l8 8"/><path d="M495.5 387.5l-8 8"/>
<path d="M510.5 378.5l8 8"/><path d="M518.5 378.5l-8 8"/>
<path d="M510.5 384.5l8 8"/><path d="M518.5 384.5l-8 8"/>
<path d="M535.5 381.5l8 8"/><path d="M543.5 381.5l-8 8"/>
<path d="M583.5 387.5l8 8"/><path d="M591.5 387.5l-8 8"/>
<path d="M440.5 396.5l8 8"/><path d="M448.5 396.5l-8 8"/>
<path d="M449.5 399.5l8 8"/><path d="M457.5 399.5l-8 8"/>
<path d="M444.5 406.5l8 8"/><path d="M452.5 406.5l-8 8"/>
<path d="M424.5 407.5l8 8"/><path d="M432.5 407.5l-8 8"/>
<path d="M433.5 417.5l8 8"/><path d="M441.5 417.5l-8 8"/>
<path d="M492.5 407.5l8 8"/><path d="M500.5 407.5l-8 8"/>
<path d="M490.5 411.5l8 8"/><path d="M498.5 411.5l-8 8"/>
<path d="M496.5 422.5l8 8"/><path d="M504.5 422.5l-8 8"/>
<path d="M498.5 422.5l8 8"/><path d="M506.5 422.5l-8 8"/>
<path d="M500.5 422.5l8 8"/><path d="M508.5 422.5l-8 8"/>
<path d="M601.5 346.5l8 8"/><path d="M609.5 346.5l-8 8"/>
<path d="M601.5 361.5l8 8"/><path d="M609.5 361.5l-8 8"/>
<path d="M613.5 366.5l8 8"/><path d="M621.5 366.5l-8 8"/>
<path d="M597.5 376.5l8 8"/><path d="M605.5 376.5l-8 8"/>
<path d="M636.5 353.5l8 8"/><path d="M644.5 353.5l-8 8"/>
<path d="M672.5 342.5l8 8"/><path d="M680.5 342.5l-8 8"/>
<path d="M677.5 347.5l8 8"/><path d="M685.5 347.5l-8 8"/>
<path d="M690.5 347.5l8 8"/><path d="M698.5 347.5l-8 8"/>
<path d="M668.5 357.5l8 8"/><path d="M676.5 357.5l-8 8"/>
<path d="M711.5 346.5l8 8"/><path d="M719.5 346.5l-8 8"/>
<path d="M718.5 358.5l8 8"/><path d="M726.5 358.5l-8 8"/>
<path d="M734.5 340.5l8 8"/><path d="M742.5 340.5l-8 8"/>
<path d="M743.5 348.5l8 8"/><path d="M751.5 348.5l-8 8"/>
<path d="M647.5 368.5l8 8"/><path d="M655.5 368.5l-8 8"/>
<path d="M644.5 372.5l8 8"/><path d="M652.5 372.5l-8 8"/>
<path d="M636.5 375.5l8 8"/><path d="M644.5 375.5l-8 8"/>
<path d="M638.5 382.5l8 8"/><path d="M646.5 382.5l-8 8"/>
<path d="M711.5 381.5l8 8"/><path d="M719.5 381.5l-8 8"/>
<path d="M682.5 387.5l8 8"/><path d="M690.5 387.5l-8 8"/>
<path d="M686.5 387.5l8 8"/><path d="M694.5 387.5l-8 8"/>
<path d="M590.5 399.5l8 8"/><path d="M598.5 399.5l-8 8"/>
<path d="M617.5 398.5l8 8"/><path d="M625.5 398.5l-8 8"/>
<path d="M615.5 410.5l8 8"/><path d="M623.5 410.5l-8 8"/>
<path d="M626.5 411.5l8 8"/><path d="M634.5 411.5l-8 8"/>
<path d="M656.5 412.5l8 8"/><path d="M664.5 412.5l-8 8"/>
<path d="M652.5 421.5l8 8"/><path d="M660.5 421.5l-8 8"/>
<path d="M659.5 420.5l8 8"/><path d="M667.5 420.5l-8 8"/>
<path d="M704.5 418.5l8 8"/><path d="M712.5 418.5l-8 8"/>
<path d="M718.5 405.5l8 8"/><path d="M726.5 405.5l-8 8"/>
<path d="M716.5 412.5l8 8"/><path d="M724.5 412.5l-8 8"/>
<path d="M739.5 402.5l8 8"/><path d="M747.5 402.5l-8 8"/>
<path d="M624.5 435.5l8 8"/><path d="M632.5 435.5l-8 8"/>
<path d="M861.5 339.5l8 8"/><path d="M869.5 339.5l-8 8"/>
<path d="M784.5 349.5l8 8"/><path d="M792.5 349.5l-8 8"/>
<path d="M811.5 347.5l8 8"/><path d="M819.5 347.5l-8 8"/>
<path d="M822.5 346.5l8 8"/><path d="M830.5 346.5l-8 8"/>
<path d="M826.5 346.5l8 8"/><path d="M834.5 346.5l-8 8"/>
<path d="M829.5 347.5l8 8"/><path d="M837.5 347.5l-8 8"/>
<path d="M836.5 363.5l8 8"/><path d="M844.5 363.5l-8 8"/>
<path d="M880.5 348.5l8 8"/><path d="M888.5 348.5l-8 8"/>
<path d="M875.5 356.5l8 8"/><path d="M883.5 356.5l-8 8"/>
<path d="M914.5 347.5l8 8"/><path d="M922.5 347.5l-8 8"/>
<path d="M903.5 364.5l8 8"/><path d="M911.5 364.5l-8 8"/>
<path d="M894.5 373.5l8 8"/><path d="M902.5 373.5l-8 8"/>
<path d="M887.5 380.5l8 8"/><path d="M895.5 380.5l-8 8"/>
<path d="M759.5 377.5l8 8"/><path d="M767.5 377.5l-8 8"/>
<path d="M768.5 380.5l8 8"/><path d="M776.5 380.5l-8 8"/>
<path d="M793.5 378.5l8 8"/><path d="M801.5 378.5l-8 8"/>
<path d="M789.5 400.5l8 8"/><path d="M797.5 400.5l-8 8"/>
<path d="M757.5 405.5l8 8"/><path d="M765.5 405.5l-8 8"/>
<path d="M873.5 396.5l8 8"/><path d="M881.5 396.5l-8 8"/>
<path d="M868.5 401.5l8 8"/><path d="M876.5 401.5l-8 8"/>
<path d="M857.5 410.5l8 8"/><path d="M865.5 410.5l-8 8"/>
<path d="M827.5 423.5l8 8"/><path d="M835.5 423.5l-8 8"/>
<path d="M827.5 433.5l8 8"/><path d="M835.5 433.5l-8 8"/>
<path d="M109.5 438.5l8 8"/><path d="M117.5 438.5l-8 8"/>
<path d="M119.5 441.5l8 8"/><path d="M127.5 441.5l-8 8"/>
<path d="M160.5 440.5l8 8"/><path d="M168.5 440.5l-8 8"/>
<path d="M176.5 441.5l8 8"/><path d="M184.5 441.5l-8 8"/>
<path d="M128.5 455.5l8 8"/><path d="M136.5 455.5l-8 8"/>
<path d="M130.5 462.5l8 8"/><path d="M138.5 462.5l-8 8"/>
<path d="M167.5 451.5l8 8"/><path d="M175.5 451.5l-8 8"/>
<path d="M173.5 465.5l8 8"/><path d="M181.5 465.5l-8 8"/>
<path d="M217.5 459.5l8 8"/><path d="M225.5 459.5l-8 8"/>
<path d="M101.5 469.5l8 8"/><path d="M109.5 469.5l-8 8"/>
<path d="M108.5 469.5l8 8"/><path d="M116.5 469.5l-8 8"/>
<path d="M103.5 473.5l8 8"/><path d="M111.5 473.5l-8 8"/>
<path d="M157.5 481.5l8 8"/><path d="M165.5 481.5l-8 8"/>
<path d="M217.5 480.5l8 8"/><path d="M225.5 480.5l-8 8"/>
<path d="M210.5 486.5l8 8"/><path d="M218.5 486.5l-8 8"/>
<path d="M106.5 492.5l8 8"/><path d="M114.5 492.5l-8 8"/>
<path d="M142.5 507.5l8 8"/><path d="M150.5 507.5l-8 8"/>
<path d="M196.5 506.5l8 8"/><path d="M204.5 506.5l-8 8"/>
<path d="M242.5 490.5l8 8"/><path d="M250.5 490.5l-8 8"/>
<path d="M235.5 498.5l8 8"/><path d="M243.5 498.5l-8 8"/>
<path d="M231.5 505.5l8 8"/><path d="M239.5 505.5l-8 8"/>
<path d="M260.5 454.5l8 8"/><path d="M268.5 454.5l-8 8"/>
<path d="M321.5 451.5l8 8"/><path d="M329.5 451.5l-8 8"/>
<path d="M365.5 441.5l8 8"/><path d="M373.5 441.5l-8 8"/>
<path d="M401.5 460.5l8 8"/><path d="M409.5 460.5l-8 8"/>
<path d="M381.5 471.5l8 8"/><path d="M389.5 471.5l-8 8"/>
<path d="M367.5 481.5l8 8"/><path d="M375.5 481.5l-8 8"/>
<path d="M355.5 489.5l8 8"/><path d="M363.5 489.5l-8 8"/>
<path d="M267.5 485.5l8 8"/><path d="M275.5 485.5l-8 8"/>
<path d="M317.5 487.5l8 8"/><path d="M325.5 487.5l-8 8"/>
<path d="M330.5 499.5l8 8"/><path d="M338.5 499.5l-8 8"/>
<path d="M294.5 501.5l8 8"/><path d="M302.5 501.5l-8 8"/>
<path d="M285.5 509.5l8 8"/><path d="M293.5 509.5l-8 8"/>
<path d="M365.5 506.5l8 8"/><path d="M373.5 506.5l-8 8"/>
<path d="M379.5 500.5l8 8"/><path d="M387.5 500.5l-8 8"/>
<path d="M397.5 502.5l8 8"/><path d="M405.5 502.5l-8 8"/>
<path d="M424.5 440.5l8 8"/><path d="M432.5 440.5l-8 8"/>
<path d="M423.5 463.5l8 8"/><path d="M431.5 463.5l-8 8"/>
<path d="M428.5 465.5l8 8"/><path d="M436.5 465.5l-8 8"/>
<path d="M444.5 448.5l8 8"/><path d="M452.5 448.5l-8 8"/>
<path d="M444.5 458.5l8 8"/><path d="M452.5 458.5l-8 8"/>
<path d="M456.5 455.5l8 8"/><path d="M464.5 455.5l-8 8"/>
<path d="M471.5 441.5l8 8"/><path d="M479.5 441.5l-8 8"/>
<path d="M471.5 451.5l8 8"/><path d="M479.5 451.5l-8 8"/>
<path d="M471.5 464.5l8 8"/><path d="M479.5 464.5l-8 8"/>
<path d="M478.5 469.5l8 8"/><path d="M486.5 469.5l-8 8"/>
<path d="M487.5 494.5l8 8"/><path d="M495.5 494.5l-8 8"/>
<path d="M496.5 504.5l8 8"/><path d="M504.5 504.5l-8 8"/>
<path d="M503.5 503.5l8 8"/><path d="M511.5 503.5l-8 8"/>
<path d="M514.5 486.5l8 8"/><path d="M522.5 486.5l-8 8"/>
<path d="M521.5 481.5l8 8"/><path d="M529.5 481.5l-8 8"/>
<path d="M544.5 479.5l8 8"/><path d="M552.5 479.5l-8 8"/>
<path d="M549.5 472.5l8 8"/><path d="M557.5 472.5l-8 8"/>
<path d="M552.5 477.5l8 8"/><path d="M560.5 477.5l-8 8"/>
<path d="M540.5 502.5l8 8"/><path d="M548.5 502.5l-8 8"/>
<path d="M544.5 499.5l8 8"/><path d="M552.5 499.5l-8 8"/>
<path d="M569.5 475.5l8 8"/><path d="M577.5 475.5l-8 8"/>
<path d="M567.5 484.5l8 8"/><path d="M575.5 484.5l-8 8"/>
<path d="M576.5 493.5l8 8"/><path d="M584.5 493.5l-8 8"/>
<path d="M583.5 487.5l8 8"/><path d="M591.5 487.5l-8 8"/>
<path d="M581.5 506.5l8 8"/><path d="M589.5 506.5l-8 8"/>
<path d="M610.5 450.5l8 8"/><path d="M618.5 450.5l-8 8"/>
<path d="M610.5 449.5l8 8"/><path d="M618.5 449.5l-8 8"/>
<path d="M610.5 460.5l8 8"/><path d="M618.5 460.5l-8 8"/>
<path d="M640.5 440.5l8 8"/><path d="M648.5 440.5l-8 8"/>
<path d="M631.5 463.5l8 8"/><path d="M639.5 463.5l-8 8"/>
<path d="M654.5 469.5l8 8"/><path d="M662.5 469.5l-8 8"/>
<path d="M668.5 462.5l8 8"/><path d="M676.5 462.5l-8 8"/>
<path d="M686.5 443.5l8 8"/><path d="M694.5 443.5l-8 8"/>
<path d="M701.5 442.5l8 8"/><path d="M709.5 442.5l-8 8"/>
<path d="M704.5 442.5l8 8"/><path d="M712.5 442.5l-8 8"/>
<path d="M716.5 449.5l8 8"/><path d="M724.5 449.5l-8 8"/>
<path d="M730.5 450.5l8 8"/><path d="M738.5 450.5l-8 8"/>
<path d="M693.5 466.5l8 8"/><path d="M701.5 466.5l-8 8"/>
<path d="M723.5 476.5l8 8"/><path d="M731.5 476.5l-8 8"/>
<path d="M739.5 487.5l8 8"/><path d="M747.5 487.5l-8 8"/>
<path d="M718.5 496.5l8 8"/><path d="M726.5 496.5l-8 8"/>
<path d="M736.5 509.5l8 8"/><path d="M744.5 509.5l-8 8"/>
<path d="M679.5 508.5l8 8"/><path d="M687.5 508.5l-8 8"/>
<path d="M670.5 483.5l8 8"/><path d="M678.5 483.5l-8 8"/>
<path d="M629.5 488.5l8 8"/><path d="M637.5 488.5l-8 8"/>
<path d="M645.5 492.5l8 8"/><path d="M653.5 492.5l-8 8"/>
<path d="M764.5 476.5l8 8"/><path d="M772.5 476.5l-8 8"/>
<path d="M768.5 485.5l8 8"/><path d="M776.5 485.5l-8 8"/>
<path d="M766.5 489.5l8 8"/><path d="M774.5 489.5l-8 8"/>
<path d="M816.5 510.5l8 8"/><path d="M824.5 510.5l-8 8"/>
<path d="M820.5 509.5l8 8"/><path d="M828.5 509.5l-8 8"/>
<path d="M843.5 492.5l8 8"/><path d="M851.5 492.5l-8 8"/>
<path d="M857.5 482.5l8 8"/><path d="M865.5 482.5l-8 8"/>
<path d="M870.5 471.5l8 8"/><path d="M878.5 471.5l-8 8"/>
<path d="M894.5 478.5l8 8"/><path d="M902.5 478.5l-8 8"/>
<path d="M878.5 498.5l8 8"/><path d="M886.5 498.5l-8 8"/>
<path d="M878.5 508.5l8 8"/><path d="M886.5 508.5l-8 8"/>
<path d="M894.5 506.5l8 8"/><path d="M902.5 506.5l-8 8"/>
<path d="M494.5 62.5l8 8"/><path d="M502.5 62.5l-8 8"/>
<path d="M499.5 64.5l8 8"/><path d="M507.5 64.5l-8 8"/>
<path d="M510.5 62.5l8 8"/><path d="M518.5 62.5l-8 8"/>
<path d="M512.5 69.5l8 8"/><path d="M520.5 69.5l-8 8"/>
<path d="M517.5 75.5l8 8"/><path d="M525.5 75.5l-8 8"/>
<path d="M485.5 81.5l8 8"/><path d="M493.5 81.5l-8 8"/>
<path d="M492.5 89.5l8 8"/><path d="M500.5 89.5l-8 8"/>
<path d="M496.5 94.5l8 8"/><path d="M504.5 94.5l-8 8"/>
<path d="M485.5 99.5l8 8"/><path d="M493.5 99.5l-8 8"/>
<path d="M507.5 87.5l8 8"/><path d="M515.5 87.5l-8 8"/>
<path d="M512.5 83.5l8 8"/><path d="M520.5 83.5l-8 8"/>
<path d="M514.5 90.5l8 8"/><path d="M522.5 90.5l-8 8"/>
<path d="M490.5 110.5l8 8"/><path d="M498.5 110.5l-8 8"/>
<path d="M519.5 106.5l8 8"/><path d="M527.5 106.5l-8 8"/>
<path d="M530.5 108.5l8 8"/><path d="M538.5 108.5l-8 8"/>
<path d="M511.5 112.5l8 8"/><path d="M519.5 112.5l-8 8"/>
<path d="M513.5 114.5l8 8"/><path d="M521.5 114.5l-8 8"/>
<path d="M491.5 123.5l8 8"/><path d="M499.5 123.5l-8 8"/>
<path d="M493.5 124.5l8 8"/><path d="M501.5 124.5l-8 8"/>
<path d="M496.5 123.5l8 8"/><path d="M504.5 123.5l-8 8"/>
<path d="M510.5 127.5l8 8"/><path d="M518.5 127.5l-8 8"/>
<path d="M572.5 130.5l8 8"/><path d="M580.5 130.5l-8 8"/>
<path d="M576.5 115.5l8 8"/><path d="M584.5 115.5l-8 8"/>
<path d="M577.5 116.5l8 8"/><path d="M585.5 116.5l-8 8"/>
<path d="M578.5 120.5l8 8"/><path d="M586.5 120.5l-8 8"/>
<path d="M585.5 113.5l8 8"/><path d="M593.5 113.5l-8 8"/>
<path d="M594.5 107.5l8 8"/><path d="M602.5 107.5l-8 8"/>
<path d="M600.5 104.5l8 8"/><path d="M608.5 104.5l-8 8"/>
<path d="M601.5 105.5l8 8"/><path d="M609.5 105.5l-8 8"/>
<path d="M606.5 92.5l8 8"/><path d="M614.5 92.5l-8 8"/>
<path d="M613.5 110.5l8 8"/><path d="M621.5 110.5l-8 8"/>
<path d="M616.5 111.5l8 8"/><path d="M624.5 111.5l-8 8"/>
<path d="M618.5 111.5l8 8"/><path d="M626.5 111.5l-8 8"/>
<path d="M487.5 165.5l8 8"/><path d="M495.5 165.5l-8 8"/>
<path d="M510.5 171.5l8 8"/><path d="M518.5 171.5l-8 8"/>
<path d="M526.5 177.5l8 8"/><path d="M534.5 177.5l-8 8"/>
<path d="M510.5 185.5l8 8"/><path d="M518.5 185.5l-8 8"/>
<path d="M503.5 191.5l8 8"/><path d="M511.5 191.5l-8 8"/>
<path d="M508.5 193.5l8 8"/><path d="M516.5 193.5l-8 8"/>
<path d="M510.5 198.5l8 8"/><path d="M518.5 198.5l-8 8"/>
<path d="M503.5 201.5l8 8"/><path d="M511.5 201.5l-8 8"/>
<path d="M513.5 201.5l8 8"/><path d="M521.5 201.5l-8 8"/>
<path d="M523.5 200.5l8 8"/><path d="M531.5 200.5l-8 8"/>
<path d="M496.5 209.5l8 8"/><path d="M504.5 209.5l-8 8"/>
<path d="M521.5 212.5l8 8"/><path d="M529.5 212.5l-8 8"/>
<path d="M509.5 195.5l8 8"/><path d="M517.5 195.5l-8 8"/>
<path d="M101.5 315.5l8 8"/><path d="M109.5 315.5l-8 8"/>
<path d="M108.5 314.5l8 8"/><path d="M116.5 314.5l-8 8"/>
<path d="M110.5 314.5l8 8"/><path d="M118.5 314.5l-8 8"/>
<path d="M112.5 314.5l8 8"/><path d="M120.5 314.5l-8 8"/>
<path d="M114.5 314.5l8 8"/><path d="M122.5 314.5l-8 8"/>
<path d="M116.5 314.5l8 8"/><path d="M124.5 314.5l-8 8"/>
<path d="M119.5 314.5l8 8"/><path d="M127.5 314.5l-8 8"/>
<path d="M126.5 314.5l8 8"/><path d="M134.5 314.5l-8 8"/>
<path d="M146.5 307.5l8 8"/><path d="M154.5 307.5l-8 8"/>
<path d="M137.5 315.5l8 8"/><path d="M145.5 315.5l-8 8"/>
<path d="M140.5 315.5l8 8"/><path d="M148.5 315.5l-8 8"/>
<path d="M144.5 316.5l8 8"/><path d="M152.5 316.5l-8 8"/>
<path d="M148.5 316.5l8 8"/><path d="M156.5 316.5l-8 8"/>
<path d="M151.5 316.5l8 8"/><path d="M159.5 316.5l-8 8"/>
<path d="M164.5 300.5l8 8"/><path d="M172.5 300.5l-8 8"/>
<path d="M167.5 309.5l8 8"/><path d="M175.5 309.5l-8 8"/>
<path d="M167.5 318.5l8 8"/><path d="M175.5 318.5l-8 8"/>
<path d="M169.5 318.5l8 8"/><path d="M177.5 318.5l-8 8"/>
<path d="M172.5 318.5l8 8"/><path d="M180.5 318.5l-8 8"/>
<path d="M174.5 318.5l8 8"/><path d="M182.5 318.5l-8 8"/>
<path d="M177.5 318.5l8 8"/><path d="M185.5 318.5l-8 8"/>
<path d="M126.5 324.5l8 8"/><path d="M134.5 324.5l-8 8"/>
<path d="M128.5 331.5l8 8"/><path d="M136.5 331.5l-8 8"/>
<path d="M135.5 339.5l8 8"/><path d="M143.5 339.5l-8 8"/>
<path d="M144.5 333.5l8 8"/><path d="M152.5 333.5l-8 8"/>
<path d="M148.5 337.5l8 8"/><path d="M156.5 337.5l-8 8"/>
<path d="M103.5 336.5l8 8"/><path d="M111.5 336.5l-8 8"/>
<path d="M182.5 339.5l8 8"/><path d="M190.5 339.5l-8 8"/>
<path d="M185.5 347.5l8 8"/><path d="M193.5 347.5l-8 8"/>
<path d="M748.5 432.5l8 8"/><path d="M756.5 432.5l-8 8"/>
<path d="M739.5 438.5l8 8"/><path d="M747.5 438.5l-8 8"/>
<path d="M742.5 438.5l8 8"/><path d="M750.5 438.5l-8 8"/>
<path d="M744.5 438.5l8 8"/><path d="M752.5 438.5l-8 8"/>
<path d="M747.5 438.5l8 8"/><path d="M755.5 438.5l-8 8"/>
<path d="M753.5 437.5l8 8"/><path d="M761.5 437.5l-8 8"/>
<path d="M756.5 437.5l8 8"/><path d="M764.5 437.5l-8 8"/>
<path d="M758.5 437.5l8 8"/><path d="M766.5 437.5l-8 8"/>
<path d="M752.5 450.5l8 8"/><path d="M760.5 450.5l-8 8"/>
<path d="M755.5 461.5l8 8"/><path d="M763.5 461.5l-8 8"/>
<path d="M780.5 431.5l8 8"/><path d="M788.5 431.5l-8 8"/>
<path d="M782.5 446.5l8 8"/><path d="M790.5 446.5l-8 8"/>
<path d="M777.5 454.5l8 8"/><path d="M785.5 454.5l-8 8"/>
<path d="M780.5 464.5l8 8"/><path d="M788.5 464.5l-8 8"/>
<path d="M795.5 469.5l8 8"/><path d="M803.5 469.5l-8 8"/>
<path d="M791.5 434.5l8 8"/><path d="M799.5 434.5l-8 8"/>
<path d="M795.5 434.5l8 8"/><path d="M803.5 434.5l-8 8"/>
<path d="M802.5 443.5l8 8"/><path d="M810.5 443.5l-8 8"/>
<path d="M807.5 443.5l8 8"/><path d="M815.5 443.5l-8 8"/>
<path d="M811.5 458.5l8 8"/><path d="M819.5 458.5l-8 8"/>
<path d="M884.5 415.5l8 8"/><path d="M892.5 415.5l-8 8"/>
<path d="M900.5 415.5l8 8"/><path d="M908.5 415.5l-8 8"/>
<path d="M847.5 430.5l8 8"/><path d="M855.5 430.5l-8 8"/>
<path d="M856.5 427.5l8 8"/><path d="M864.5 427.5l-8 8"/>
<path d="M860.5 427.5l8 8"/><path d="M868.5 427.5l-8 8"/>
<path d="M863.5 427.5l8 8"/><path d="M871.5 427.5l-8 8"/>
<path d="M857.5 434.5l8 8"/><path d="M865.5 434.5l-8 8"/>
<path d="M861.5 433.5l8 8"/><path d="M869.5 433.5l-8 8"/>
<path d="M857.5 440.5l8 8"/><path d="M865.5 440.5l-8 8"/>
<path d="M861.5 440.5l8 8"/><path d="M869.5 440.5l-8 8"/>
<path d="M863.5 439.5l8 8"/><path d="M871.5 439.5l-8 8"/>
<path d="M866.5 432.5l8 8"/><path d="M874.5 432.5l-8 8"/>
<path d="M873.5 427.5l8 8"/><path d="M881.5 427.5l-8 8"/>
<path d="M880.5 427.5l8 8"/><path d="M888.5 427.5l-8 8"/>
<path d="M886.5 425.5l8 8"/><path d="M894.5 425.5l-8 8"/>
<path d="M888.5 426.5l8 8"/><path d="M896.5 426.5l-8 8"/>
<path d="M890.5 425.5l8 8"/><path d="M898.5 425.5l-8 8"/>
<path d="M880.5 436.5l8 8"/><path d="M888.5 436.5l-8 8"/>
<path d="M875.5 439.5l8 8"/><path d="M883.5 439.5l-8 8"/>
<path d="M896.5 435.5l8 8"/><path d="M904.5 435.5l-8 8"/>
<path d="M898.5 441.5l8 8"/><path d="M906.5 441.5l-8 8"/>
<path d="M905.5 450.5l8 8"/><path d="M913.5 450.5l-8 8"/>
<path d="M907.5 460.5l8 8"/><path d="M915.5 460.5l-8 8"/>
<path d="M912.5 440.5l8 8"/><path d="M920.5 440.5l-8 8"/>
<path d="M868.5 452.5l8 8"/><path d="M876.5 452.5l-8 8"/>
<path d="M850.5 457.5l8 8"/><path d="M858.5 457.5l-8 8"/>
<path d="M854.5 459.5l8 8"/><path d="M862.5 459.5l-8 8"/>
<path d="M841.5 440.5l8 8"/><path d="M849.5 440.5l-8 8"/>
<path d="M837.5 441.5l8 8"/><path d="M845.5 441.5l-8 8"/>
<path d="M836.5 442.5l8 8"/><path d="M844.5 442.5l-8 8"/>
<path d="M836.5 449.5l8 8"/><path d="M844.5 449.5l-8 8"/>
<path d="M837.5 451.5l8 8"/><path d="M845.5 451.5l-8 8"/>
<path d="M838.5 452.5l8 8"/><path d="M846.5 452.5l-8 8"/>
<path d="M832.5 457.5l8 8"/><path d="M840.5 457.5l-8 8"/>
<path d="M537.5 422.5l8 8"/><path d="M545.5 422.5l-8 8"/>
<path d="M553.5 418.5l8 8"/><path d="M561.5 418.5l-8 8"/>
<path d="M565.5 422.5l8 8"/><path d="M573.5 422.5l-8 8"/>
<path d="M572.5 427.5l8 8"/><path d="M580.5 427.5l-8 8"/>
<path d="M585.5 426.5l8 8"/><path d="M593.5 426.5l-8 8"/>
<path d="M601.5 422.5l8 8"/><path d="M609.5 422.5l-8 8"/>
<path d="M540.5 434.5l8 8"/><path d="M548.5 434.5l-8 8"/>
<path d="M542.5 435.5l8 8"/><path d="M550.5 435.5l-8 8"/>
<path d="M549.5 439.5l8 8"/><path d="M557.5 439.5l-8 8"/>
<path d="M550.5 442.5l8 8"/><path d="M558.5 442.5l-8 8"/>
<path d="M547.5 446.5l8 8"/><path d="M555.5 446.5l-8 8"/>
<path d="M549.5 447.5l8 8"/><path d="M557.5 447.5l-8 8"/>
<path d="M572.5 440.5l8 8"/><path d="M580.5 440.5l-8 8"/>
<path d="M574.5 448.5l8 8"/><path d="M582.5 448.5l-8 8"/>
<path d="M599.5 442.5l8 8"/><path d="M607.5 442.5l-8 8"/>
<path d="M587.5 452.5l8 8"/><path d="M595.5 452.5l-8 8"/>
<path d="M590.5 451.5l8 8"/><path d="M598.5 451.5l-8 8"/>
<path d="M592.5 451.5l8 8"/><path d="M600.5 451.5l-8 8"/>
<path d="M595.5 451.5l8 8"/><path d="M603.5 451.5l-8 8"/>
<path d="M537.5 455.5l8 8"/><path d="M545.5 455.5l-8 8"/>
<path d="M540.5 466.5l8 8"/><path d="M548.5 466.5l-8 8"/>
</g>
<g class="ax">
<line x1="83.5" y1="537.5" x2="83.5" y2="542.36"/>
<line x1="246.5" y1="537.5" x2="246.5" y2="542.36"/>
<line x1="408.5" y1="537.5" x2="408.5" y2="542.36"/>
<line x1="571.5" y1="537.5" x2="571.5" y2="542.36"/>
<line x1="733.5" y1="537.5" x2="733.5" y2="542.36"/>
<line x1="896.5" y1="537.5" x2="896.5" y2="542.36"/>
<line x1="59.64" y1="519.5" x2="64.5" y2="519.5"/>
<line x1="59.64" y1="442.5" x2="64.5" y2="442.5"/>
<line x1="59.64" y1="364.5" x2="64.5" y2="364.5"/>
<line x1="59.64" y1="286.5" x2="64.5" y2="286.5"/>
<line x1="59.64" y1="208.5" x2="64.5" y2="208.5"/>
<line x1="59.64" y1="130.5" x2="64.5" y2="130.5"/>
<line x1="59.64" y1="52.5" x2="64.5" y2="52.5"/>
<rect x="64.5" y="32.5" width="895.0" height="505.0" stroke-linejoin="miter"/>
</g>
<text class="t" x="83.5" y="557.0" text-anchor="middle">2025-09-14 16:30:00</text>
<text class="t" x="245.5" y="557.0" text-anchor="middle">2025-09-14 16:31:00</text>
<text class="t" x="408.5" y="557.0" text-anchor="middle">2025-09-14 16:32:00</text>
<text class="t" x="571.5" y="557.0" text-anchor="middle">2025-09-14 16:33:00</text>
<text class="t" x="733.5" y="557.0" text-anchor="middle">2025-09-14 16:34:00</text>
<text class="t" x="896.5" y="557.0" text-anchor="middle">2025-09-14 16:35:00</text>
<text class="t" x="55.5" y="525.1" text-anchor="end">0</text>
<text class="t" x="55.1" y="447.1" text-anchor="end">10</text>
<text class="t" x="55.1" y="369.1" text-anchor="end">20</text>
<text class="t" x="53.8" y="291.1" text-anchor="end">30</text>
<text class="t" x="55.1" y="214.1" text-anchor="end">40</text>
<text class="t" x="53.8" y="136.1" text-anchor="end">50</text>
<text class="t" x="54.8" y="58.1" text-anchor="end">60</text>
<text class="t" x="511.5" y="576.6" text-anchor="middle">Time (UTC)</text>
<text class="t" transform="translate(26.6,285) rotate(-90)" text-anchor="middle">Bistatic Delay (km)</text>
<text class="ti" transform="translate(511.2,24) scale(1,1.07)" text-anchor="middle">Detections in Delay</text>
</svg>
</body>
</html>
